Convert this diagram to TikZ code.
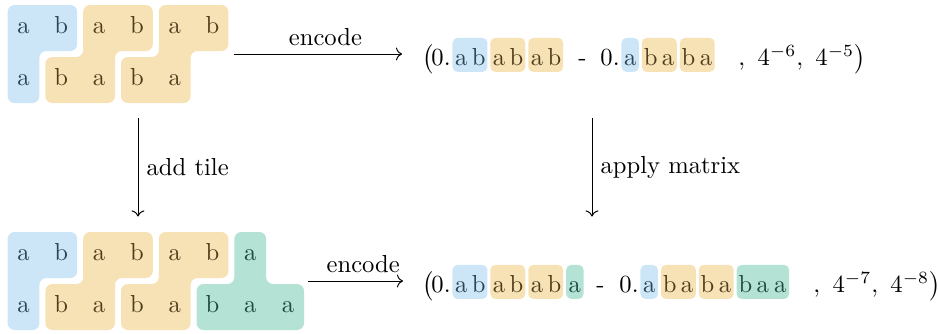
\documentclass[tikz,border=0pt]{standalone}
\usepackage{amsmath,amssymb}
\usetikzlibrary{arrows.meta,positioning,calc}
\definecolor{tileblue}{HTML}{CDE6F7}
\definecolor{tileorange}{HTML}{F7E2B5}
\definecolor{tilegreen}{HTML}{B4E2D4}
\definecolor{inkblue}{HTML}{2B4556}
\definecolor{inkorange}{HTML}{4F3D1C}
\definecolor{inkgreen}{HTML}{1D4B3F}
\newcommand\cl[1]{\makebox[7.1pt]{#1}}
\tikzset{tile/.style={rounded corners=2.8pt},
  letter/.style={anchor=base,inner sep=0pt},
  hl/.style={rounded corners=2pt,inner xsep=0pt,inner ysep=0pt,text height=11pt,text depth=2.8pt},
  hb/.style={hl,fill=tileblue,text=inkblue},
  ho/.style={hl,fill=tileorange,text=inkorange},
  hg/.style={hl,fill=tilegreen,text=inkgreen},
  bit/.style={anchor=base west,inner sep=0pt},
  group/.style={inner sep=0pt,minimum width=#1,minimum height=39.8pt}}

\begin{document}
\begin{tikzpicture}[x=0.4065pt,y=-0.4065pt]
\useasboundingbox (0,0) rectangle (938,333);
% the two tilings
\foreach \gy in {0,227}{
\begin{scope}[shift={(0,\gy)}]
\fill[tile,tileblue] (7.6,5)--(77.2,5)--(77.2,51)--(39.4,51)--(39.4,103)--(7.6,103)--cycle;
\fill[tile,tileorange] (83.2,5)--(152.8,5)--(152.8,51)--(115,51)--(115,103)--(45.4,103)--(45.4,57)--(83.2,57)--cycle;
\fill[tile,tileorange] (158.8,5)--(228.4,5)--(228.4,51)--(190.6,51)--(190.6,103)--(121,103)--(121,57)--(158.8,57)--cycle;
\end{scope}}
\begin{scope}[shift={(0,227)}]
\fill[tile,tilegreen] (234.4,5)--(266.2,5)--(266.2,57)--(304,57)--(304,103)--(196.6,103)--(196.6,57)--(234.4,57)--cycle;
\end{scope}
\foreach \l/\c [count=\i from 0] in {a/blue,b/blue,a/orange,b/orange,a/orange,b/orange}
  \node[letter,text=ink\c] (A0\i) at ({23.5+37.8*\i},33) {\l};
\foreach \l/\c [count=\i from 0] in {a/blue,b/orange,a/orange,b/orange,a/orange}
  \node[letter,text=ink\c] (A1\i) at ({23.5+37.8*\i},85) {\l};
\foreach \l/\c [count=\i from 0] in {a/blue,b/blue,a/orange,b/orange,a/orange,b/orange,a/green}
  \node[letter,text=ink\c] (B0\i) at ({23.5+37.8*\i},260) {\l};
\foreach \l/\c [count=\i from 0] in {a/blue,b/orange,a/orange,b/orange,a/orange,b/green,a/green,a/green}
  \node[letter,text=ink\c] (B1\i) at ({23.5+37.8*\i},312) {\l};
\node[group=89.8pt] (wordA) at (118,54) {};
\node[group=120.5pt] (wordB) at (155.8,281) {};

% top encoding
\node[bit] (lpA) at (422,65) {$\bigl($};
\node[bit] (zA) at (431,65) {0.};
\node[hb,anchor=base west] (hA1) at (452,65) {\cl{a}\cl{b}};
\node[ho,right=0.8pt of hA1] (hA2) {\cl{a}\cl{b}};
\node[ho,right=0.8pt of hA2] (hA3) {\cl{a}\cl{b}};
\node[bit] (dA) at (578,65) {-};
\node[bit] (zA2) at (600,65) {0.};
\node[hb,anchor=base west] (hA4) at (621,65) {\cl{a}};
\node[ho,right=0.8pt of hA4] (hA5) {\cl{b}\cl{a}};
\node[ho,right=0.8pt of hA5] (hA6) {\cl{b}\cl{a}};
\node[bit] (tA) at (738,65) {$,\ 4^{-6},\ 4^{-5}\bigr)$};

% bottom encoding
\node[bit] (lpB) at (422,292) {$\bigl($};
\node[bit] (zB) at (431,292) {0.};
\node[hb,anchor=base west] (hB1) at (452,292) {\cl{a}\cl{b}};
\node[ho,right=0.8pt of hB1] (hB2) {\cl{a}\cl{b}};
\node[ho,right=0.8pt of hB2] (hB3) {\cl{a}\cl{b}};
\node[hg,right=0.8pt of hB3] (hB4) {\cl{a}};
\node[bit] (dB) at (596,292) {-};
\node[bit] (zB2) at (619,292) {0.};
\node[hb,anchor=base west] (hB5) at (640,292) {\cl{a}};
\node[ho,right=0.8pt of hB5] (hB6) {\cl{b}\cl{a}};
\node[ho,right=0.8pt of hB6] (hB7) {\cl{b}\cl{a}};
\node[hg,right=0.8pt of hB7] (hB8) {\cl{b}\cl{a}\cl{a}};
\node[bit] (tB) at (813,292) {$,\ 4^{-7},\ 4^{-8}\bigr)$};

% arrows
\draw[->,shorten <=1.9pt,shorten >=8.1pt] (wordA.east) -- (wordA.east -| lpA.west) node[midway,above] {encode};
\draw[->,shorten <=1.6pt,shorten >=7.7pt] (wordB.east) -- (wordB.east -| lpB.west) node[midway,above] {encode};
\draw[->,shorten <=6.1pt,shorten >=6.1pt] (138,0 |- wordA.south) -- (138,0 |- wordB.north) node[midway,right] {add tile};
\draw[->,shorten <=6.1pt,shorten >=6.1pt] (592,0 |- wordA.south) -- (592,0 |- wordB.north) node[midway,right] {apply matrix};
\end{tikzpicture}
\end{document}
